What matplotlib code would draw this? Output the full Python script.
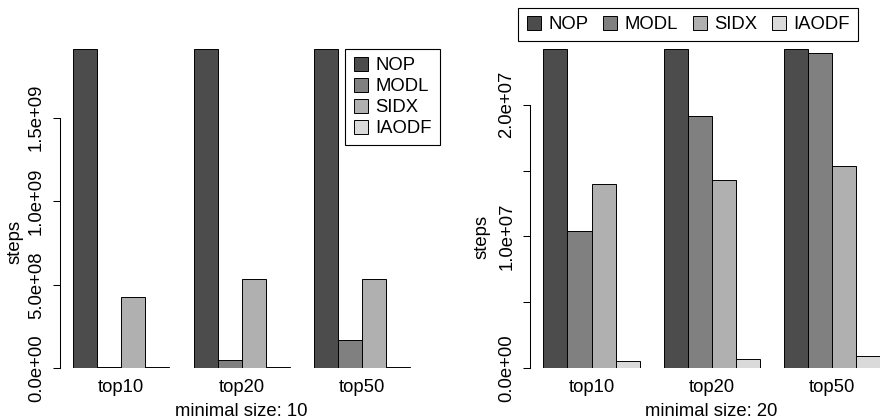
import numpy as np
import matplotlib
matplotlib.use("Agg")
import matplotlib.pyplot as plt
from matplotlib.lines import Line2D

plt.rcParams['font.family'] = ['Liberation Sans', 'DejaVu Sans']
plt.rcParams['font.size'] = 13.3

# data
categories = ['top10', 'top20', 'top50']
series = ['NOP', 'MODL', 'SIDX', 'IAODF']
colors = ['#4c4c4c', '#808080', '#b0b0b0', '#dadada']

steps_10 = {
    'NOP':   [1.91e9, 1.91e9, 1.91e9],
    'MODL':  [1.0e7, 5.0e7, 1.71e8],
    'SIDX':  [4.29e8, 5.35e8, 5.35e8],
    'IAODF': [5.0e6, 6.0e6, 7.0e6],
}
steps_20 = {
    'NOP':   [2.42e7, 2.42e7, 2.42e7],
    'MODL':  [1.042e7, 1.913e7, 2.389e7],
    'SIDX':  [1.399e7, 1.427e7, 1.531e7],
    'IAODF': [5.5e5, 6.8e5, 9.1e5],
}
ticks_10 = [0, 5e8, 1e9, 1.5e9]
ticklabels_10 = ['0.0e+00', '5.0e+08', '1.0e+09', '1.5e+09']
ticks_20 = [0, 5e6, 1e7, 1.5e7, 2e7]
ticklabels_20 = ['0.0e+00', '', '1.0e+07', '', '2.0e+07']

W, H = 880, 420
fig = plt.figure(figsize=(W / 100, H / 100), dpi=100)


def px(x0, y_top, x1, y_bot):
    return [x0 / W, 1 - y_bot / H, (x1 - x0) / W, (y_bot - y_top) / H]


def barplot(ax, data, ticks, ticklabels, xlab):
    nser = len(series)
    ngrp = len(categories)
    # R style beside=TRUE, space=c(0,1)
    for g in range(ngrp):
        for s, name in enumerate(series):
            left = 1 + g * (nser + 1) + s
            ax.bar(left, data[name][g], width=1, align='edge',
                   color=colors[s], edgecolor='black', linewidth=0.7)
    lo, hi = 1, ngrp * (nser + 1)
    pad = 0.04 * (hi - lo)
    ax.set_xlim(lo - pad, hi + pad)
    ymax = max(max(v) for v in data.values())
    ax.set_ylim(0, ymax)
    centers = [1 + g * (nser + 1) + nser / 2 for g in range(ngrp)]
    ax.set_xticks(centers)
    ax.set_xticklabels(categories)
    ax.tick_params(axis='x', length=0, pad=7.5)
    ax.set_yticks(ticks)
    ax.set_yticklabels(ticklabels)
    ax.tick_params(axis='y', length=5, width=0.75, pad=5.5, labelrotation=90)
    for lab in ax.get_yticklabels():
        lab.set_va('center')
    for sp in ['top', 'right', 'bottom']:
        ax.spines[sp].set_visible(False)
    ax.spines['left'].set_bounds(ticks[0], ticks[-1])
    ax.spines['left'].set_linewidth(0.75)
    ax.set_xlabel(xlab)
    ax.xaxis.set_label_coords(0.5, -(403 - 368.3) / 319)
    ax.xaxis.label.set_va('top')


ax1 = fig.add_axes(px(59.7, 49.3, 423.6, 368.3))
barplot(ax1, steps_10, ticks_10, ticklabels_10, 'minimal size: 10')
ax2 = fig.add_axes(px(530, 49.3, 893.3, 368.3))
barplot(ax2, steps_20, ticks_20, ticklabels_20, 'minimal size: 20')

fig.text(15 / W, 1 - 242 / H, 'steps', rotation=90, ha='center', va='center')
fig.text(482 / W, 1 - 237 / H, 'steps', rotation=90, ha='center', va='center')

handles = [Line2D([], [], linestyle='none', marker='s', markersize=9.8,
                  markerfacecolor=c, markeredgecolor='black',
                  markeredgewidth=0.7) for c in colors]

leg_kw = dict(frameon=True, fancybox=False, framealpha=1, edgecolor='black',
              borderaxespad=0, handlelength=0.92, handletextpad=0.32,
              borderpad=0.42, bbox_transform=fig.transFigure,
              loc='upper left')
l1 = ax1.legend(handles, series, labelspacing=0.22,
                bbox_to_anchor=(345 / W, 1 - 49.3 / H), **leg_kw)
l1.get_frame().set_linewidth(0.8)
l2 = ax2.legend(handles, series, ncol=4, columnspacing=0.72,
                bbox_to_anchor=(517.7 / W, 1 - 8.3 / H), **leg_kw)
l2.get_frame().set_linewidth(0.8)

fig.savefig('out.png', dpi=100)
